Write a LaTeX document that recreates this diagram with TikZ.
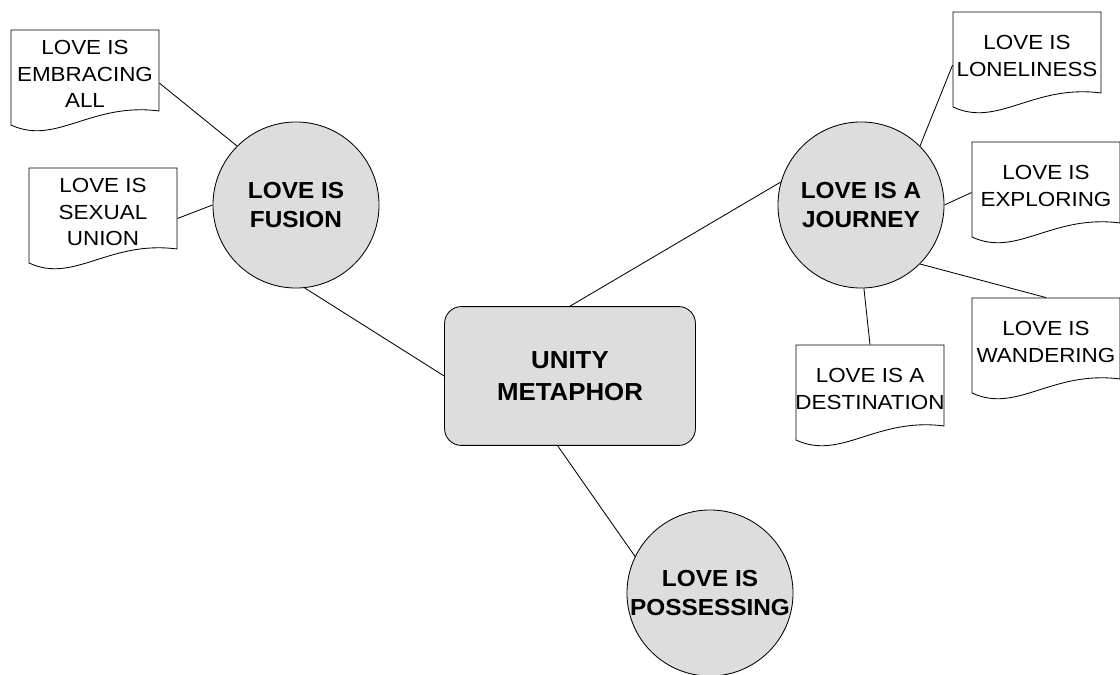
\documentclass[tikz,border=0pt]{standalone}
\usepackage{fontspec}
\usepackage{tikz}
\usetikzlibrary{calc, shapes}
\newfontfamily\docfont[FakeStretch=1.1]{Liberation Sans}
\newfontfamily\topicfont[FakeStretch=1.05]{Liberation Sans}
\definecolor{nodegray}{RGB}{221,221,221}

\begin{document}
\begin{tikzpicture}[x=0.025cm,y=-0.025cm,line width=0.6pt,
        every node/.style={scale=1}]
        \tikzstyle{topic}=[circle,fill=nodegray,draw=black,minimum size=4.15cm,inner sep=0pt,align=center,font=\topicfont\bfseries\fontsize{16.5}{20.5}\selectfont]
        \tikzstyle{metaphor}=[rectangle,rounded corners=0.42cm,fill=nodegray,draw=black,minimum width=6.27cm,minimum height=3.47cm,inner sep=0pt,align=center,font=\topicfont\bfseries\fontsize{17.5}{22.5}\selectfont]
        \tikzstyle{doc}=[rectangle,minimum width=3.7cm,minimum height=2.2cm,inner sep=0pt,align=center,font=\docfont\fontsize{14.5}{19}\selectfont]
        \useasboundingbox (0,0) rectangle (1120,675);
        \node[metaphor](unity) at (570,376){UNITY\\METAPHOR};
        \node[topic](fusion) at (296,205){LOVE IS\\FUSION};
        \node[topic](journey) at (861,205){LOVE IS A\\JOURNEY};
        \node[topic](possess) at (710,593){LOVE IS\\POSSESSING};
        \node[doc](embrace) at (85,74){LOVE IS\\EMBRACING\\ALL};
        \node[doc](sexual) at (103,212){LOVE IS\\SEXUAL\\UNION};
        \node[doc](lonely) at (1027,56){LOVE IS\\LONELINESS};
        \node[doc](explore) at (1046,186){LOVE IS\\EXPLORING};
        \node[doc](wander) at (1046,342){LOVE IS\\WANDERING};
        \node[doc](dest) at (870,389){LOVE IS A\\DESTINATION};
        \foreach \n in {embrace,sexual,lonely,explore,wander,dest}{
            \begin{scope}[shift={(\n.center)}]
                \draw (-74,-44) -- (74,-44) -- (74,37) .. controls (6,28) and (-29,72) .. (-74,51) -- cycle;
            \end{scope}
        }
        \draw (unity.west) -- (fusion.-84);
        \draw (unity.north) -- (journey.164);
        \draw (unity.-100) -- (possess.154);
        \draw (fusion.135) -- (embrace.-7);
        \draw (fusion.west) -- (sexual.-5);
        \draw (journey.45) -- (lonely.187);
        \draw (journey.east) -- (explore.185);
        \draw (journey.-45) -- (wander.north);
        \draw (journey.-88) -- (dest.north);
     \end{tikzpicture}
\end{document}
